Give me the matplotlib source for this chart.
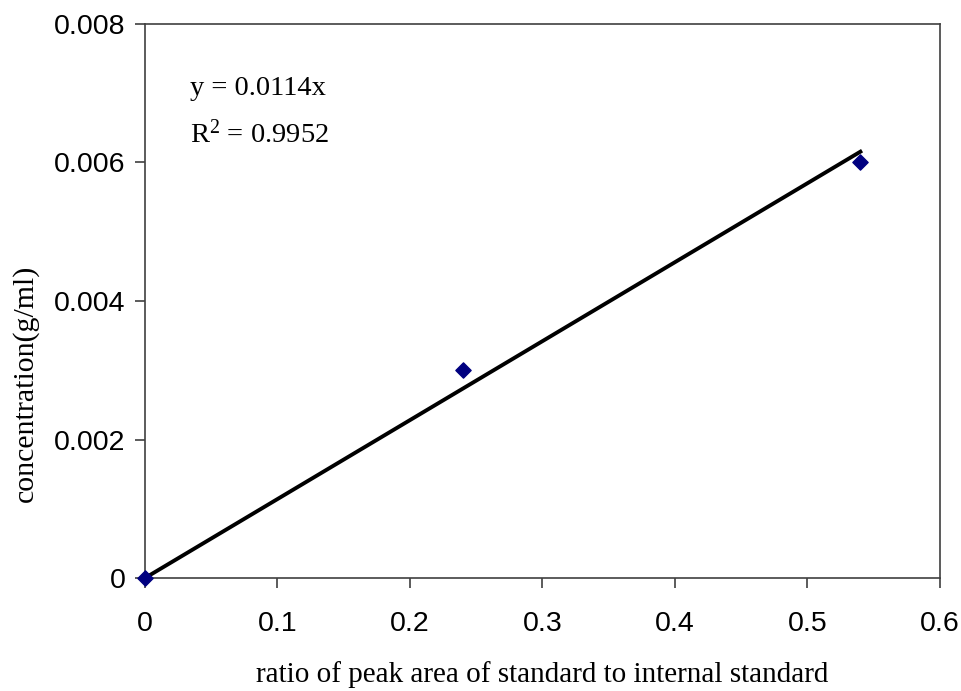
import matplotlib
matplotlib.use("Agg")
import matplotlib.pyplot as plt
import numpy as np

plt.rcParams["mathtext.fontset"] = "custom"
plt.rcParams["mathtext.rm"] = "Liberation Serif"
plt.rcParams["mathtext.it"] = "Liberation Serif:italic"

# Calibration data: peak-area ratio vs concentration
ratio = [0.0, 0.24, 0.54]
concentration = [0.0, 0.003, 0.006]
slope = 0.0114
r_squared = 0.9952

x_ticks = [0, 0.1, 0.2, 0.3, 0.4, 0.5, 0.6]
x_tick_labels = ["0", "0.1", "0.2", "0.3", "0.4", "0.5", "0.6"]
y_ticks = [0, 0.002, 0.004, 0.006, 0.008]
y_tick_labels = ["0", "0.002", "0.004", "0.006", "0.008"]

fig = plt.figure(figsize=(9.62, 6.91), dpi=100)
ax = fig.add_axes([0.1507, 0.1635, 0.8263, 0.8018])

# Linear trend line through the origin
fit_x = np.array([0.0, max(ratio)])
ax.plot(fit_x, slope * fit_x, color="black", lw=2.8, zorder=2)

ax.scatter(ratio, concentration, marker="D", s=60, color="#000080",
           edgecolors="#000080", zorder=3, clip_on=False)

ax.set_xlim(0, 0.6)
ax.set_ylim(0, 0.008)
ax.set_xticks(x_ticks)
ax.set_xticklabels(x_tick_labels)
ax.set_yticks(y_ticks)
ax.set_yticklabels(y_tick_labels)

for side in ["left", "bottom", "top", "right"]:
    ax.spines[side].set_color("#404040")
    ax.spines[side].set_linewidth(1.2)

ax.tick_params(axis="both", direction="out", length=7, width=1.2, color="#404040",
               labelsize=20.5)
ax.tick_params(axis="x", pad=17)
ax.tick_params(axis="y", pad=7)
for lab in ax.get_xticklabels() + ax.get_yticklabels():
    lab.set_fontfamily("Liberation Sans")

ax.set_xlabel("ratio of peak area of standard to internal standard",
              fontfamily="Liberation Serif", fontsize=21)
ax.xaxis.set_label_coords(0.5, -0.175)
ax.xaxis.label.set_va("center")

ax.set_ylabel("concentration(g/ml)", fontfamily="Liberation Serif", fontsize=21.5)
ax.yaxis.set_label_coords(-0.150, 0.352)
ax.yaxis.label.set_va("center")

ax.text(0.057, 0.884, f"y = {slope}x", transform=ax.transAxes,
        fontfamily="Liberation Serif", fontsize=20.5, va="center", ha="left")
ax.text(0.057, 0.800, r"R$^2$" + f" = {r_squared}", transform=ax.transAxes,
        fontfamily="Liberation Serif", fontsize=20.5, va="center", ha="left")

fig.savefig("out.png", dpi=100)
